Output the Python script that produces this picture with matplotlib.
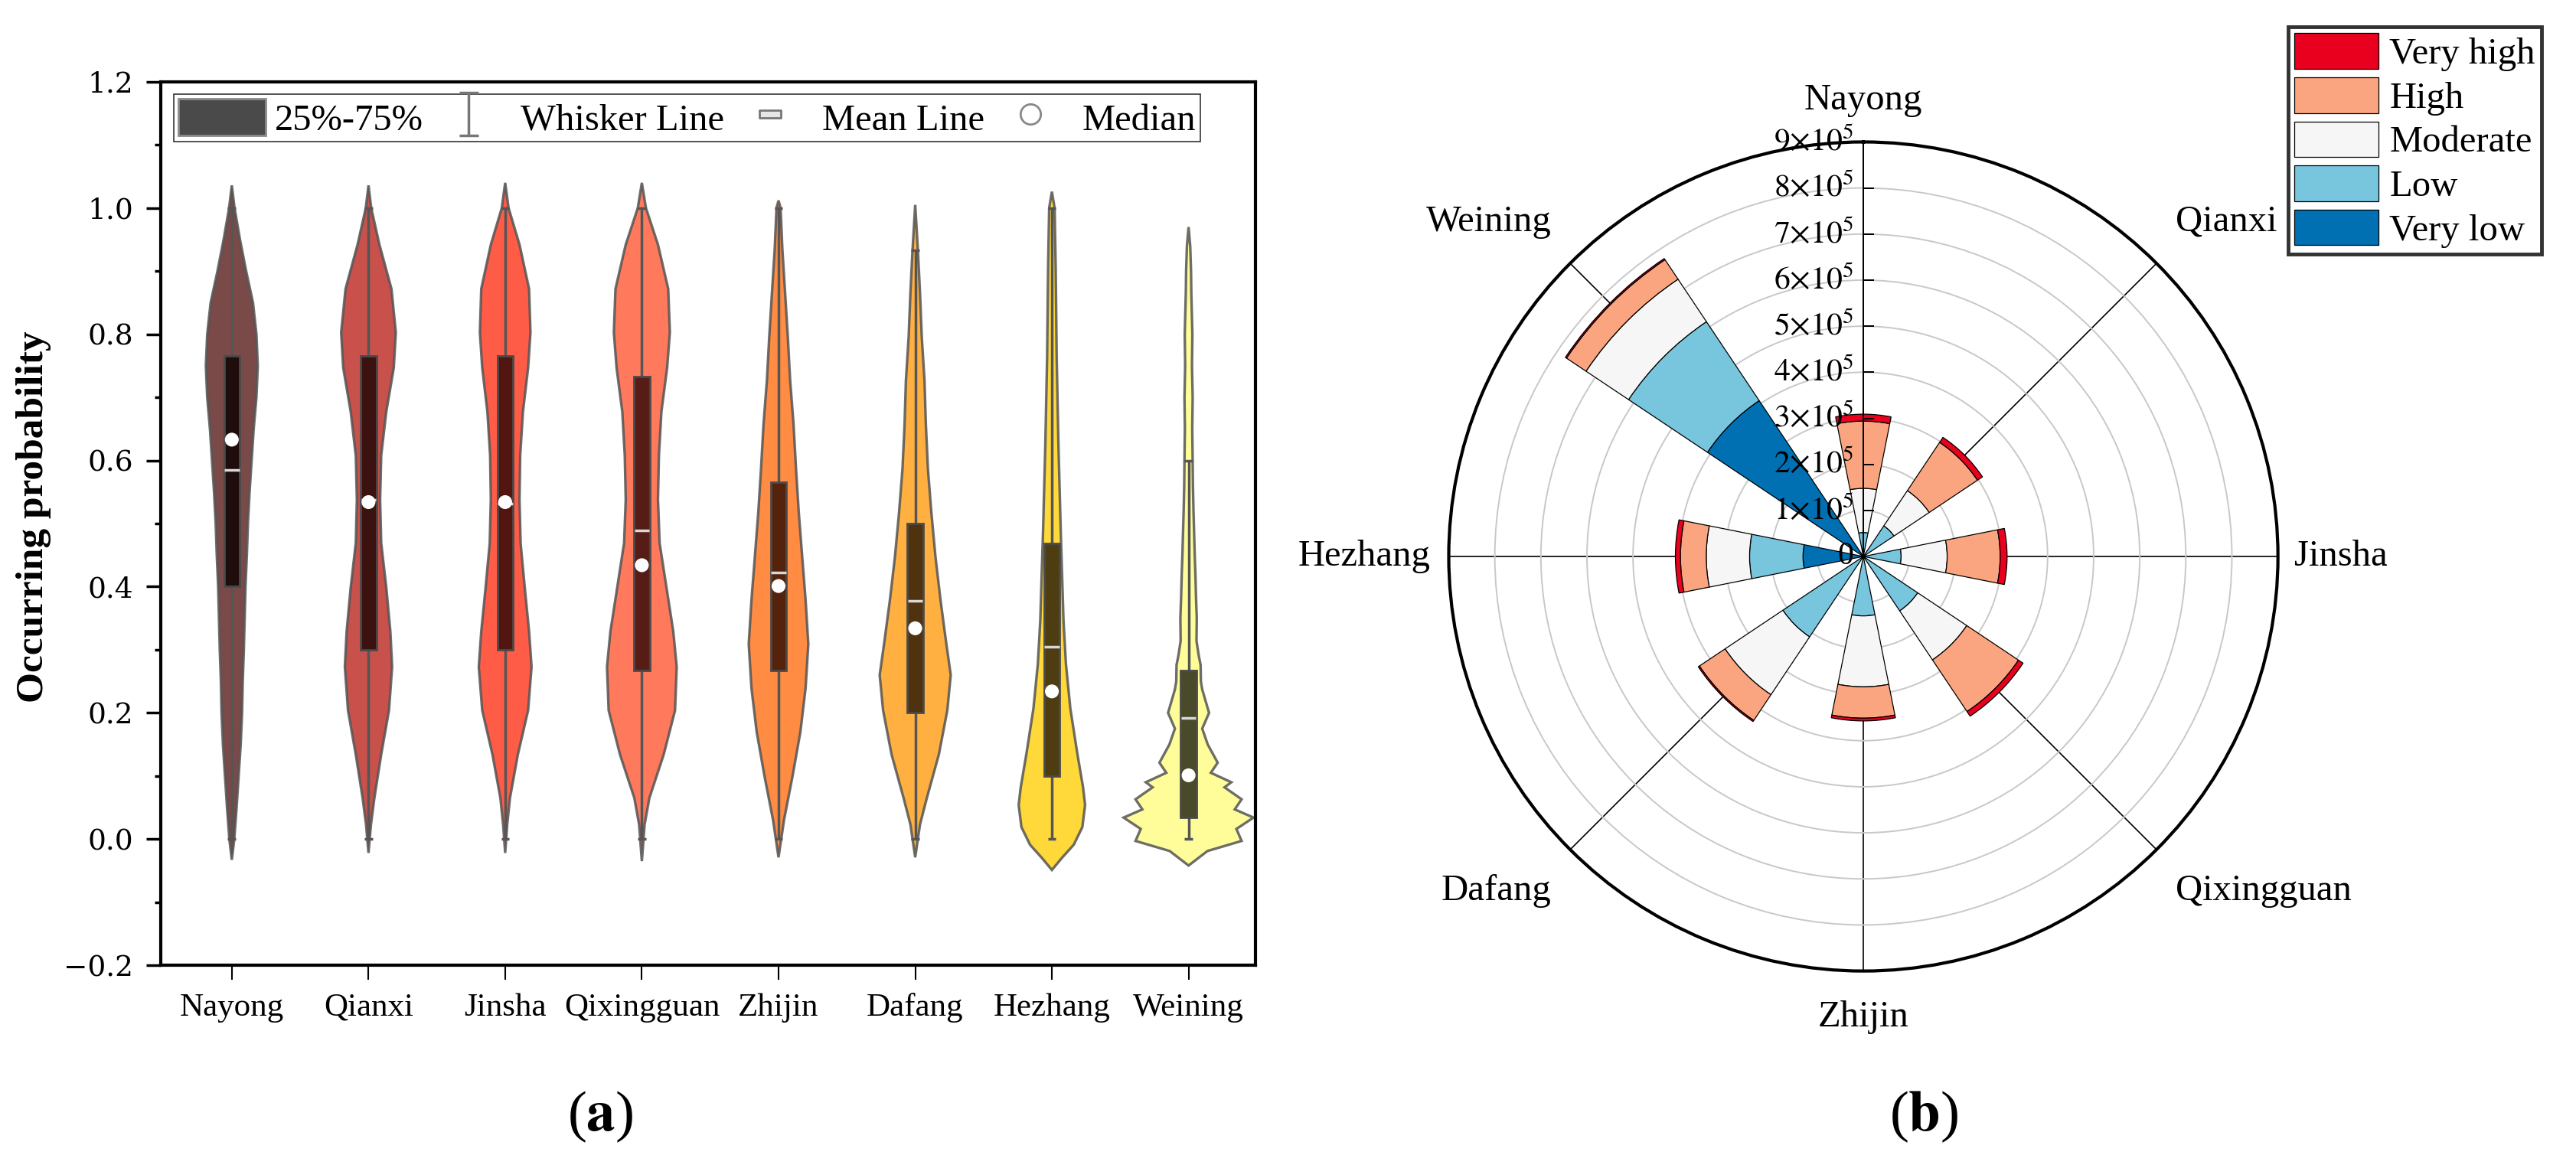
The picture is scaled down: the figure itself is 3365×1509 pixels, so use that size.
import numpy as np
import matplotlib
matplotlib.use('Agg')
import matplotlib.pyplot as plt
from matplotlib.path import Path
from matplotlib.lines import Line2D
from matplotlib.patches import Patch

plt.rcParams['font.family'] = ['Liberation Serif', 'DejaVu Serif']
plt.rcParams['mathtext.fontset'] = 'stix'

# ---------------- data: panel (a) ----------------
sites = ['Nayong', 'Qianxi', 'Jinsha', 'Qixingguan', 'Zhijin', 'Dafang', 'Hezhang', 'Weining']
q1 = [0.401, 0.300, 0.300, 0.267, 0.267, 0.200, 0.100, 0.034]
q3 = [0.766, 0.766, 0.766, 0.733, 0.566, 0.500, 0.468, 0.267]
medians = [0.633, 0.534, 0.534, 0.434, 0.401, 0.334, 0.234, 0.101]
means = [0.585, 0.538, 0.532, 0.489, 0.423, 0.378, 0.305, 0.192]
whisker_lo = [0.0, 0.0, 0.0, 0.0, 0.0, 0.0, 0.0, 0.0]
whisker_hi = [1.0, 1.0, 1.0, 1.0, 1.0, 0.933, 1.0, 0.600]

# violin outlines: probability level and half-width (category units)
vy_nayong = [1.036, 1.0, 0.95, 0.9, 0.85, 0.8, 0.75, 0.7, 0.65, 0.6, 0.55, 0.5, 0.45, 0.4, 0.35, 0.3, 0.25, 0.2, 0.15, 0.1, 0.05, 0.0, -0.033]
vw_nayong = [0.0, 0.02, 0.06, 0.105, 0.155, 0.18, 0.19, 0.18, 0.16, 0.145, 0.13, 0.118, 0.11, 0.10, 0.094, 0.088, 0.08, 0.075, 0.065, 0.05, 0.035, 0.018, 0.0]
vy_qianxi = [1.036, 1.0, 0.942, 0.872, 0.803, 0.747, 0.677, 0.608, 0.538, 0.469, 0.399, 0.329, 0.273, 0.204, 0.134, 0.065, 0.023, -0.022]
vw_qianxi = [0.0, 0.02, 0.08, 0.168, 0.20, 0.185, 0.13, 0.093, 0.085, 0.093, 0.13, 0.16, 0.173, 0.15, 0.093, 0.043, 0.018, 0.0]
vy_jinsha = [1.04, 1.0, 0.942, 0.872, 0.803, 0.747, 0.677, 0.608, 0.538, 0.469, 0.399, 0.329, 0.273, 0.204, 0.134, 0.065, 0.023, -0.022]
vw_jinsha = [0.0, 0.025, 0.105, 0.175, 0.185, 0.168, 0.13, 0.11, 0.105, 0.113, 0.143, 0.175, 0.193, 0.168, 0.093, 0.035, 0.015, 0.0]
vy_qixingguan = [1.04, 1.0, 0.942, 0.872, 0.803, 0.747, 0.677, 0.608, 0.538, 0.469, 0.399, 0.329, 0.273, 0.204, 0.134, 0.065, 0.023, -0.035]
vw_qixingguan = [0.0, 0.03, 0.118, 0.193, 0.205, 0.185, 0.143, 0.125, 0.118, 0.13, 0.18, 0.23, 0.255, 0.243, 0.16, 0.055, 0.02, 0.0]
vy_zhijin = [1.012, 1.0, 0.935, 0.866, 0.796, 0.727, 0.657, 0.587, 0.518, 0.448, 0.379, 0.309, 0.239, 0.170, 0.100, 0.030, -0.029]
vw_zhijin = [0.0, 0.015, 0.028, 0.048, 0.068, 0.085, 0.11, 0.128, 0.148, 0.173, 0.198, 0.218, 0.198, 0.16, 0.103, 0.04, 0.0]
vy_dafang = [1.005, 0.932, 0.866, 0.796, 0.727, 0.657, 0.587, 0.518, 0.448, 0.379, 0.309, 0.260, 0.204, 0.134, 0.065, 0.023, -0.029]
vw_dafang = [0.0, 0.02, 0.035, 0.048, 0.068, 0.078, 0.093, 0.118, 0.148, 0.185, 0.228, 0.26, 0.235, 0.173, 0.085, 0.035, 0.0]
vy_hezhang = [1.026, 1.0, 0.903, 0.764, 0.625, 0.486, 0.346, 0.277, 0.207, 0.137, 0.082, 0.054, 0.019, -0.009, -0.030, -0.049]
vw_hezhang = [0.0, 0.02, 0.028, 0.035, 0.048, 0.065, 0.085, 0.103, 0.135, 0.185, 0.228, 0.243, 0.223, 0.16, 0.073, 0.0]
vy_weining = [0.970, 0.94, 0.90, 0.866, 0.80, 0.75, 0.70, 0.65, 0.60, 0.559, 0.52, 0.49, 0.45, 0.42, 0.38, 0.35, 0.314, 0.29, 0.276, 0.25, 0.237, 0.20, 0.175, 0.15, 0.121, 0.105, 0.090, 0.082, 0.063, 0.047, 0.034, 0.016, -0.003, -0.019, -0.042]
vw_weining = [0.0, 0.012, 0.018, 0.02, 0.028, 0.025, 0.03, 0.027, 0.03, 0.032, 0.036, 0.04, 0.045, 0.05, 0.055, 0.06, 0.058, 0.075, 0.088, 0.09, 0.10, 0.15, 0.10, 0.14, 0.213, 0.163, 0.313, 0.263, 0.388, 0.338, 0.475, 0.35, 0.388, 0.138, 0.0]

violin_y = [vy_nayong, vy_qianxi, vy_jinsha, vy_qixingguan, vy_zhijin, vy_dafang, vy_hezhang, vy_weining]
violin_w = [vw_nayong, vw_qianxi, vw_jinsha, vw_qixingguan, vw_zhijin, vw_dafang, vw_hezhang, vw_weining]

violin_colors = ['#7A4A48', '#C8514C', '#FF5C48', '#FF7A5C', '#FF8C42', '#FFB040', '#FFD83A', '#FFFD9A']
box_colors = ['#1F0C0C', '#3B1210', '#521612', '#571C16', '#55230C', '#50330E', '#4E3D10', '#4A4A2A']

# ---------------- data: panel (b) ----------------
regions = ['Nayong', 'Qianxi', 'Jinsha', 'Qixingguan', 'Zhijin', 'Dafang', 'Hezhang', 'Weining']
very_low = [1000, 1000, 1000, 1000, 1000, 1000, 131000, 407000]
low = [51000, 79000, 81000, 141000, 128000, 209000, 116000, 206000]
moderate = [96000, 92000, 100000, 128000, 154000, 151000, 94000, 111000]
high = [146000, 126000, 115000, 135000, 68000, 67000, 56000, 51000]
very_high = [15000, 13000, 15000, 12000, 6000, 3000, 11000, 3000]
level_names = ['Very low', 'Low', 'Moderate', 'High', 'Very high']
level_colors = ['#0070B3', '#78C5DE', '#F6F6F6', '#FAA580', '#E8001E']
r_ticks = [0, 100000, 200000, 300000, 400000, 500000, 600000, 700000, 800000, 900000]

# ---------------- figure ----------------
fig = plt.figure(figsize=(33.65, 15.09), dpi=100)

ax = fig.add_axes([0.0624, 0.1643, 0.425, 0.7648])
pos = np.arange(1, len(sites) + 1)
edge_col = (0.33, 0.33, 0.33, 0.85)
for i, p in enumerate(pos):
    y = np.array(violin_y[i])
    w = np.array(violin_w[i])
    xs = np.concatenate([p - w, (p + w)[::-1]])
    ys = np.concatenate([y, y[::-1]])
    ax.fill(xs, ys, facecolor=violin_colors[i], edgecolor=edge_col, lw=2.4, zorder=1)

ax.vlines(pos, whisker_lo, whisker_hi, color='#555555', lw=2.5, zorder=2)
ax.hlines(whisker_lo, pos - 0.03, pos + 0.03, color='#555555', lw=2.5, zorder=2)
ax.hlines(whisker_hi, pos - 0.03, pos + 0.03, color='#555555', lw=2.5, zorder=2)
ax.bar(pos, np.array(q3) - np.array(q1), bottom=q1, width=0.115, color=box_colors,
       edgecolor='#4a4a4a', lw=2, zorder=3)
ax.hlines(means, pos - 0.055, pos + 0.055, color='#d8d8d8', lw=2.5, zorder=4)
ax.scatter(pos, medians, s=170, color='white', edgecolor='none', zorder=5)

ax.set_xlim(0.48, 8.49)
ax.set_ylim(-0.2, 1.2)
ax.set_yticks(np.arange(-0.2, 1.21, 0.2))
ax.set_yticks(np.arange(-0.1, 1.2, 0.2), minor=True)
ax.set_yticklabels(['\u22120.2', '0.0', '0.2', '0.4', '0.6', '0.8', '1.0', '1.2'],
                   family='DejaVu Serif', fontsize=27)
ax.set_xticks(pos)
ax.set_xticklabels(sites, fontsize=31)
ax.tick_params(axis='y', which='major', direction='out', length=14, width=2.5, pad=12)
ax.tick_params(axis='y', which='minor', direction='out', length=6, width=2.5)
ax.tick_params(axis='x', which='major', direction='out', length=14, width=1.5, pad=12)
for s in ax.spines.values():
    s.set_linewidth(3)

whisker_marker = Path([(-0.45, 1), (0.45, 1), (0, 1), (0, -1), (-0.45, -1), (0.45, -1)],
                      [Path.MOVETO, Path.LINETO, Path.MOVETO, Path.LINETO, Path.MOVETO, Path.LINETO])
mean_marker = Path([(-1, -0.35), (1, -0.35), (1, 0.35), (-1, 0.35), (-1, -0.35)],
                   [Path.MOVETO, Path.LINETO, Path.LINETO, Path.LINETO, Path.CLOSEPOLY])
h1 = Patch(facecolor='#4a4a4a', edgecolor='#8a8a8a', lw=2)
h2 = Line2D([], [], ls='none', marker=whisker_marker, markersize=40, mew=2.5,
            mec='#777777', mfc='none')
h3 = Line2D([], [], ls='none', marker=mean_marker, markersize=20, mew=2,
            mfc='#e6e6e6', mec='#777777')
h4 = Line2D([], [], ls='none', marker='o', markersize=19, mew=2, mfc='white', mec='#888888')
leg = ax.legend([h1, h2, h3, h4], ['25%-75%', 'Whisker Line', 'Mean Line', 'Median'],
                ncol=4, loc='upper left', bbox_to_anchor=(0.012, 0.986), borderaxespad=0,
                fontsize=35, handlelength=2.35, handleheight=1.15, handletextpad=0.23,
                columnspacing=0.05, borderpad=0.12, numpoints=1, frameon=True,
                fancybox=False, edgecolor='black')
leg.get_frame().set_linewidth(1.2)

fig.text(0.0131, 0.5527, 'Occurring probability', rotation=90, ha='center', va='center',
         fontsize=37, fontweight='bold')

# ---------------- polar panel ----------------
ax2 = fig.add_axes([0.5624, 0.1593, 0.3219, 0.7178], projection='polar')
ax2.set_theta_zero_location('N')
ax2.set_theta_direction(-1)
theta = np.deg2rad(np.arange(len(regions)) * 45.0)
width = np.deg2rad(22.5)
segments = [very_low, low, moderate, high, very_high]
bottom = np.zeros(len(regions))
bars = []
for seg, col in zip(segments, level_colors):
    b = ax2.bar(theta, seg, width=width, bottom=bottom, color=col, edgecolor='black',
                lw=0.9, zorder=2)
    bars.append(b)
    bottom = bottom + np.array(seg)

ax2.set_ylim(0, r_ticks[-1])
ax2.set_yticks(r_ticks[1:-1])
ax2.set_yticklabels([])
ax2.set_xticks(theta)
ax2.set_xticklabels([])
ax2.set_xticks(theta + np.deg2rad(22.5), minor=True)
ax2.set_axisbelow(True)
ax2.yaxis.grid(True, color='#c8c8c8', lw=1.4)
ax2.xaxis.grid(True, color='black', lw=1.2)
ax2.spines['polar'].set_linewidth(3)
ax2.tick_params(axis='x', which='major', direction='out', length=15, width=3, color='black')
ax2.tick_params(axis='x', which='minor', direction='out', length=9, width=2, color='black')

# radial axis along Nayong direction
ax2.plot([0, 0], [0, r_ticks[-1]], color='black', lw=1.4, zorder=6)
ax2.plot(np.zeros(len(r_ticks) - 1), r_ticks[1:], ls='none', marker=1, ms=10, mew=1.3,
         color='black', zorder=6)
for r in r_ticks:
    k = int(round(r / 1e5))
    lab = '0' if k == 0 else r'$%d{\times}10^{5}$' % k
    ax2.annotate(lab, xy=(0, r), xytext=(-9, 0), textcoords='offset points',
                 ha='right', va='center', fontsize=30, zorder=7)

# label placement: (ha, va, radius factor, angular shift in degrees)
align = {0: ('center', 'bottom', 1.06, 0.0), 45: ('left', 'center', 1.104, -2.0),
         90: ('left', 'center', 1.04, 0.0), 135: ('left', 'center', 1.104, 2.0),
         180: ('center', 'top', 1.07, 0.0), 225: ('right', 'center', 1.104, -2.0),
         270: ('right', 'center', 1.045, 0.0), 315: ('right', 'center', 1.104, 2.0)}
for i, name in enumerate(regions):
    ha, va, rf, dth = align[i * 45]
    ax2.text(theta[i] + np.deg2rad(dth), r_ticks[-1] * rf, name, ha=ha, va=va, fontsize=35)

handles = [bars[k].patches[0] for k in range(4, -1, -1)]
lg2 = fig.legend(handles, level_names[::-1], loc='upper right', bbox_to_anchor=(0.9866, 0.9768),
                 borderaxespad=0, fontsize=35, frameon=True, fancybox=False, edgecolor='black',
                 borderpad=0.17, handlelength=2.25, handleheight=1.1, labelspacing=0.16,
                 handletextpad=0.3)
lg2.get_frame().set_linewidth(3.5)

fig.text(0.233, 0.033, r'($\mathbf{a}$)', ha='center', va='center', fontsize=54)
fig.text(0.747, 0.033, r'($\mathbf{b}$)', ha='center', va='center', fontsize=54)

fig.savefig('out.png', dpi=100, facecolor='white')
